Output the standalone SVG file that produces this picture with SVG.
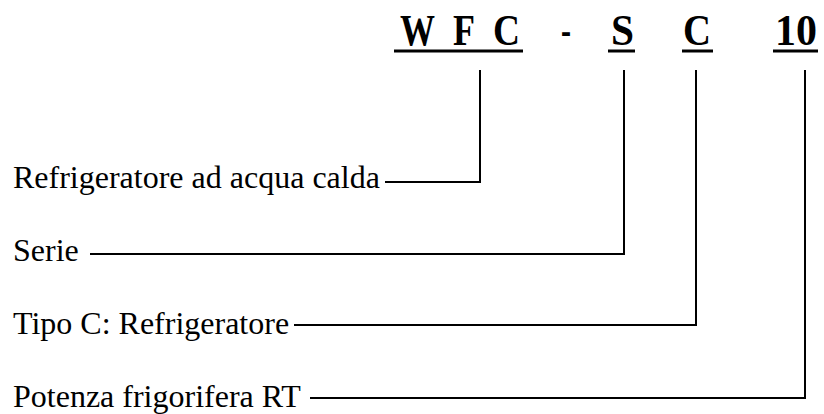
<svg xmlns="http://www.w3.org/2000/svg" width="824" height="414" viewBox="0 0 824 414">
<style>
.code{font-family:"Liberation Serif","Times New Roman",serif;font-weight:bold;font-size:44px;fill:#000}
.lbl{font-family:"Liberation Serif","Times New Roman",serif;font-size:32px;fill:#000}
.ul{stroke:#000;stroke-width:3;fill:none}
.conn{stroke:#000;stroke-width:2;fill:none}
</style>
<rect width="824" height="414" fill="#fff"/>
<g id="code">
<text class="code" x="400" y="45" textLength="35" lengthAdjust="spacingAndGlyphs">W</text>
<text class="code" x="453" y="45" textLength="22" lengthAdjust="spacingAndGlyphs">F</text>
<text class="code" x="493" y="45" textLength="27" lengthAdjust="spacingAndGlyphs">C</text>
<text class="code" x="561" y="45" textLength="10" lengthAdjust="spacingAndGlyphs">-</text>
<text class="code" x="611" y="45" textLength="23" lengthAdjust="spacingAndGlyphs">S</text>
<text class="code" x="683" y="45" textLength="28" lengthAdjust="spacingAndGlyphs">C</text>
<text class="code" x="775" y="45" textLength="42" lengthAdjust="spacingAndGlyphs">10</text>
<line class="ul" x1="394" y1="51" x2="523" y2="51"/>
<line class="ul" x1="608" y1="51" x2="635" y2="51"/>
<line class="ul" x1="682" y1="51" x2="713" y2="51"/>
<line class="ul" x1="773" y1="51" x2="818" y2="51"/>
</g>
<g id="label-refrigeratore"><text class="lbl" x="13" y="188">Refrigeratore ad acqua calda</text></g>
<g id="label-serie"><text class="lbl" x="13" y="261">Serie</text></g>
<g id="label-tipo"><text class="lbl" x="13" y="334">Tipo C: Refrigeratore</text></g>
<g id="label-potenza"><text class="lbl" x="13" y="407">Potenza frigorifera RT</text></g>
<g id="connectors">
<polyline class="conn" points="385,182 480,182 480,70"/>
<polyline class="conn" points="90,254 624,254 624,70"/>
<polyline class="conn" points="294,325 696,325 696,70"/>
<polyline class="conn" points="310,398 805,398 805,70"/>
</g>
</svg>
